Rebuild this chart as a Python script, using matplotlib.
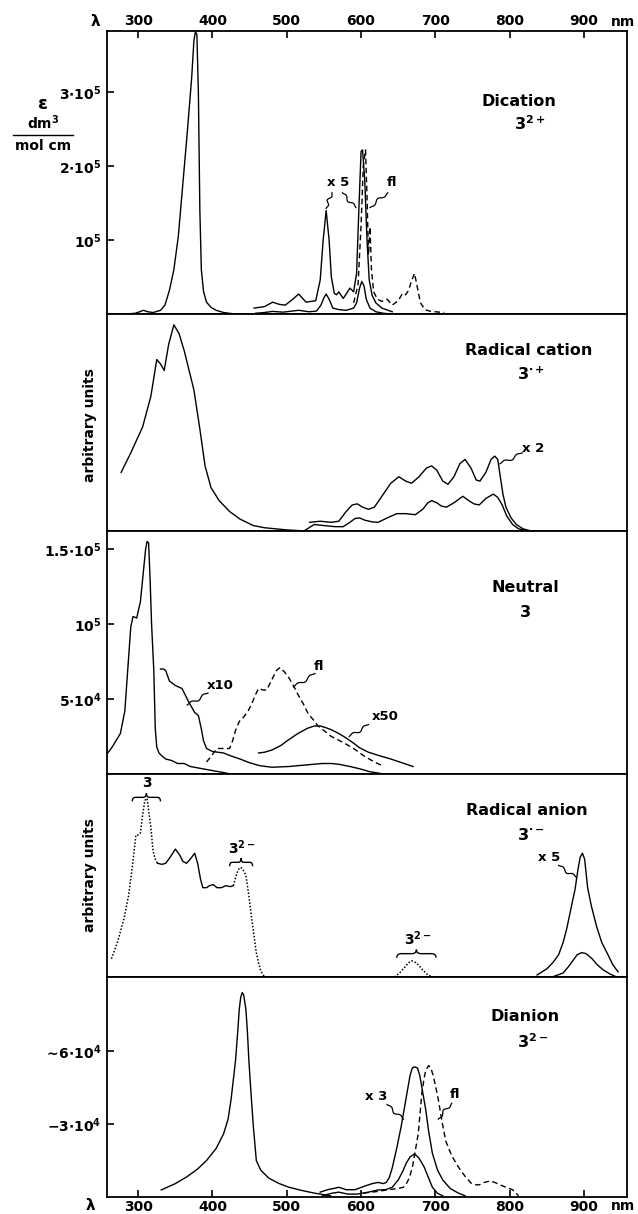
import numpy as np
import matplotlib
matplotlib.use("Agg")
import matplotlib.pyplot as plt
from matplotlib.path import Path
from matplotlib.patches import PathPatch
from matplotlib.lines import Line2D

plt.rcParams['font.family'] = ['DejaVu Sans']
plt.rcParams['font.weight'] = 'bold'
plt.rcParams['mathtext.fontset'] = 'dejavusans'
plt.rcParams['mathtext.default'] = 'bf'

# ---------------- data (wavelength in nm) ----------------
# Panel 1: Dication (epsilon in 1e5 dm3/mol cm)
dic_uv_wl = [284, 296, 302, 307, 313, 320, 330, 336, 342, 348, 354, 360, 366, 372, 375, 377,
             379, 381, 383, 385, 388, 392, 398, 405, 415, 430]
dic_uv = [0.0, 0.01, 0.03, 0.05, 0.03, 0.02, 0.05, 0.12, 0.32, 0.6, 1.05, 1.75, 2.45, 3.2, 3.7,
          3.82, 3.78, 3.0, 1.4, 0.6, 0.3, 0.16, 0.09, 0.05, 0.02, 0.0]
dic_x5_wl = [456, 470, 481, 490, 498, 508, 516, 526, 539, 545, 549, 553, 557, 560, 564, 567, 570,
             576, 585, 590, 594, 597, 600, 602, 605, 608, 611, 615, 620, 628, 642]
dic_x5 = [0.08, 0.1, 0.16, 0.13, 0.12, 0.2, 0.27, 0.16, 0.18, 0.46, 1.0, 1.4, 1.0, 0.5, 0.28, 0.26,
          0.3, 0.21, 0.35, 0.3, 0.55, 1.4, 2.2, 2.22, 1.8, 1.0, 0.46, 0.25, 0.15, 0.08, 0.03]
dic_x1_wl = [458, 470, 481, 495, 516, 530, 540, 546, 550, 553, 557, 562, 570, 580, 590, 594, 598,
             601, 604, 607, 612, 620, 630, 640]
dic_x1 = [0.01, 0.02, 0.035, 0.025, 0.05, 0.03, 0.04, 0.12, 0.22, 0.27, 0.2, 0.08, 0.06, 0.05,
          0.08, 0.15, 0.35, 0.44, 0.38, 0.2, 0.08, 0.03, 0.01, 0.0]
dic_fl_wl = [590, 596, 600, 603, 606, 608, 610, 612, 614, 617, 622, 628, 635, 642, 650, 656, 660,
             664, 668, 672, 676, 680, 686, 692, 700, 712]
dic_fl = [0.15, 0.4, 1.2, 2.0, 2.22, 1.6, 0.8, 1.18, 0.6, 0.3, 0.2, 0.17, 0.2, 0.12, 0.18, 0.28,
          0.26, 0.32, 0.45, 0.55, 0.35, 0.15, 0.06, 0.04, 0.03, 0.02]

# Panel 2: Radical cation (arbitrary units)
rc_uv_wl = [277, 290, 306, 317, 325, 330, 335, 341, 348, 355, 362, 375, 383, 390, 398, 409, 423,
            437, 455, 470, 500, 526]
rc_uv = [0.27, 0.36, 0.48, 0.62, 0.79, 0.77, 0.74, 0.86, 0.95, 0.91, 0.83, 0.65, 0.47, 0.3, 0.2,
         0.14, 0.09, 0.055, 0.025, 0.015, 0.005, 0.0]
rc_x2_wl = [531, 545, 560, 570, 580, 588, 595, 602, 610, 618, 628, 640, 651, 660, 668, 678, 688,
            695, 702, 710, 717, 725, 733, 740, 748, 755, 760, 768, 775, 780, 784, 787, 791, 795,
            802, 809, 818, 829]
rc_x2 = [0.04, 0.045, 0.04, 0.045, 0.09, 0.12, 0.125, 0.11, 0.1, 0.11, 0.16, 0.22, 0.25, 0.23,
         0.22, 0.25, 0.29, 0.30, 0.28, 0.23, 0.215, 0.25, 0.31, 0.33, 0.29, 0.235, 0.23, 0.27,
         0.33, 0.345, 0.33, 0.26, 0.17, 0.11, 0.06, 0.03, 0.01, 0.0]
rc_x1_wl = [523, 530, 537, 550, 565, 576, 585, 592, 598, 605, 615, 623, 635, 648, 660, 673, 683,
            690, 695, 702, 708, 715, 725, 737, 745, 752, 759, 768, 778, 784, 790, 796, 804, 812, 826]
rc_x1 = [0.0, 0.015, 0.03, 0.025, 0.02, 0.02, 0.04, 0.058, 0.06, 0.05, 0.042, 0.04, 0.06, 0.08,
         0.08, 0.075, 0.1, 0.13, 0.14, 0.13, 0.115, 0.11, 0.13, 0.16, 0.14, 0.125, 0.12, 0.15,
         0.17, 0.155, 0.12, 0.07, 0.03, 0.01, 0.0]

# Panel 3: Neutral (epsilon in 1e4)
neu_uv_wl = [256, 265, 276, 282, 286, 290, 293, 298, 303, 307, 310, 312, 314, 316, 318, 321, 323,
             325, 328, 332, 337, 345, 353, 362, 370, 381, 392, 403, 420]
neu_uv = [1.2, 1.8, 2.7, 4.2, 7.0, 9.8, 10.5, 10.4, 11.5, 13.5, 15.0, 15.5, 15.4, 13.0, 10.0, 6.9,
          3.0, 1.8, 1.4, 1.2, 1.0, 0.9, 0.7, 0.7, 0.5, 0.4, 0.3, 0.2, 0.05]
neu_x10_wl = [330, 334, 337, 342, 350, 359, 367, 376, 381, 385, 388, 392, 400, 415, 425, 437, 450,
              464, 480, 503, 525, 548, 560, 570, 585, 598, 612, 625]
neu_x10 = [7.0, 7.0, 6.9, 6.2, 5.9, 5.7, 4.9, 4.1, 3.9, 3.0, 2.2, 1.7, 1.5, 1.4, 1.2, 1.0, 0.75,
           0.55, 0.45, 0.5, 0.6, 0.7, 0.7, 0.65, 0.5, 0.35, 0.15, 0.05]
neu_x50_wl = [462, 470, 480, 492, 503, 515, 528, 537, 545, 552, 560, 570, 580, 590, 598, 610, 626,
              640, 655, 670]
neu_x50 = [1.4, 1.45, 1.6, 1.9, 2.3, 2.7, 3.05, 3.2, 3.2, 3.1, 2.95, 2.7, 2.4, 2.05, 1.75, 1.45,
           1.2, 1.0, 0.75, 0.5]
neu_fl_wl = [392, 400, 406, 414, 423, 427, 431, 436, 442, 448, 453, 458, 462, 468, 473, 480, 486,
             491, 497, 503, 509, 515, 522, 529, 536, 542, 550, 560, 576, 590, 604, 618, 631]
neu_fl = [0.8, 1.3, 1.7, 1.7, 1.7, 2.2, 2.9, 3.5, 3.8, 4.2, 4.7, 5.3, 5.7, 5.6, 5.6, 6.3, 6.9,
          7.1, 6.8, 6.4, 5.9, 5.3, 4.7, 4.0, 3.6, 3.2, 2.9, 2.5, 2.1, 1.7, 1.2, 0.8, 0.5]

# Panel 4: Radical anion (arbitrary units)
ra_dot1_wl = [264, 272, 281, 287, 292, 297, 300, 303, 306, 309, 312, 314, 317, 320, 323, 326]
ra_dot1 = [0.09, 0.17, 0.29, 0.4, 0.54, 0.70, 0.70, 0.71, 0.80, 0.87, 0.88, 0.82, 0.74, 0.62,
           0.58, 0.56]
ra_solid_wl = [326, 332, 337, 343, 350, 356, 360, 365, 370, 376, 380, 384, 387, 392, 396, 401,
               406, 412, 418, 424, 428]
ra_solid = [0.56, 0.555, 0.56, 0.59, 0.63, 0.6, 0.57, 0.56, 0.58, 0.61, 0.56, 0.48, 0.44, 0.44,
            0.45, 0.455, 0.44, 0.44, 0.45, 0.445, 0.45]
ra_dot2_wl = [428, 432, 435, 438, 441, 445, 449, 453, 456, 459, 462, 465, 470]
ra_dot2 = [0.45, 0.5, 0.53, 0.54, 0.53, 0.5, 0.4, 0.28, 0.2, 0.12, 0.07, 0.03, 0.0]
ra_dot3_wl = [645, 652, 658, 664, 668, 672, 677, 683, 690, 697]
ra_dot3 = [0.0, 0.02, 0.045, 0.07, 0.08, 0.075, 0.06, 0.035, 0.01, 0.0]
ra_x5_wl = [837, 850, 858, 866, 872, 877, 881, 885, 888, 892, 895, 898, 901, 905, 910, 917, 924,
            931, 939, 946]
ra_x5 = [0.01, 0.04, 0.07, 0.11, 0.17, 0.24, 0.31, 0.38, 0.43, 0.53, 0.59, 0.61, 0.58, 0.44,
         0.35, 0.25, 0.17, 0.12, 0.06, 0.025]
ra_x1_wl = [857, 865, 872, 879, 885, 891, 897, 903, 911, 918, 926, 935, 944]
ra_x1 = [0.0, 0.01, 0.02, 0.05, 0.08, 0.11, 0.12, 0.115, 0.09, 0.06, 0.035, 0.015, 0.0]

# Panel 5: Dianion (epsilon in 1e4)
di_uv_wl = [331, 350, 365, 380, 392, 405, 415, 421, 425, 428, 431, 434, 436, 438, 440, 442, 445,
            447, 449, 452, 455, 459, 465, 476, 490, 503, 520, 537, 559]
di_uv = [0.29, 0.55, 0.82, 1.15, 1.5, 2.0, 2.6, 3.2, 4.0, 4.8, 5.6, 6.8, 7.7, 8.2, 8.4, 8.3, 7.7,
         6.8, 5.6, 4.2, 2.9, 1.5, 1.1, 0.77, 0.55, 0.4, 0.27, 0.16, 0.05]
di_x3_wl = [545, 555, 563, 570, 580, 592, 605, 615, 623, 630, 634, 638, 642, 648, 654, 658, 662,
            666, 669, 672, 676, 679, 683, 687, 691, 696, 703, 710, 720, 731, 740]
di_x3 = [0.2, 0.3, 0.35, 0.4, 0.3, 0.3, 0.45, 0.55, 0.6, 0.55, 0.6, 0.8, 1.2, 2.0, 2.9, 3.6, 4.3,
         5.0, 5.3, 5.35, 5.3, 5.0, 4.3, 3.6, 2.7, 1.8, 1.1, 0.7, 0.35, 0.16, 0.05]
di_x1_wl = [548, 560, 570, 582, 595, 610, 623, 633, 642, 650, 656, 661, 666, 672, 678, 685, 690,
            696, 703, 710]
di_x1 = [0.05, 0.15, 0.2, 0.12, 0.12, 0.2, 0.29, 0.3, 0.4, 0.7, 1.05, 1.4, 1.65, 1.77, 1.6, 1.23,
         0.85, 0.4, 0.15, 0.05]
di_fl_wl = [603, 620, 637, 650, 657, 662, 665, 669, 673, 677, 679, 682, 685, 687, 691, 694, 697,
            700, 704, 709, 714, 722, 731, 740, 748, 755, 759, 766, 774, 780, 787, 795, 804, 812]
di_fl = [0.16, 0.22, 0.3, 0.35, 0.4, 0.6, 0.8, 1.2, 1.9, 2.6, 3.3, 4.3, 4.9, 5.2, 5.4, 5.3, 5.0,
         4.6, 4.0, 3.1, 2.3, 1.7, 1.23, 0.85, 0.57, 0.5, 0.5, 0.6, 0.66, 0.6, 0.5, 0.4, 0.3, 0.05]

# ticks
x_ticks = [300, 400, 500, 600, 700, 800, 900]
x_ticklabels = ['300', '400', '500', '600', '700', '800', '900']
p1_yticks = [1, 2, 3]
p1_ylabels = [r'$10^5$', r'$2{\cdot}10^5$', r'$3{\cdot}10^5$']
p3_yticks = [5, 10, 15]
p3_ylabels = [r'$5{\cdot}10^4$', r'$10^5$', r'$1.5{\cdot}10^5$']
p5_yticks = [3, 6]
p5_ylabels = [r'$-3{\cdot}10^4$', r'$\sim\!6{\cdot}10^4$']

titles = [('Dication', r'$3^{2+}$'), ('Radical cation', r'$3^{\cdot+}$'),
          ('Neutral', r'$3$'), ('Radical anion', r'$3^{\cdot-}$'), ('Dianion', r'$3^{2-}$')]

# ---------------- layout ----------------
W, H = 638, 1214
fig = plt.figure(figsize=(W / 100, H / 100), dpi=100)
X_LEFT, X_RIGHT = 107, 627
panel_px = [(31, 314), (314, 531), (531, 774), (774, 977), (977, 1197)]
ylims = [3.83, 1.0, 16.2, 1.0, 9.04]
XLIM = (258, 958)
LW = 1.0
K = 'black'


def fx(x):
    return x / W


def fy(y):
    return 1 - y / H


axes = []
for (t, b), yl in zip(panel_px, ylims):
    ax = fig.add_axes([fx(X_LEFT), fy(b), (X_RIGHT - X_LEFT) / W, (b - t) / H])
    ax.set_xlim(*XLIM)
    ax.set_ylim(0, yl)
    for s in ax.spines.values():
        s.set_linewidth(1.3)
    ax.tick_params(axis='both', direction='in', length=5, width=1.2, labelsize=10)
    ax.tick_params(axis='x', bottom=False, top=False, labelbottom=False, labeltop=False, pad=2)
    ax.set_yticks([])
    axes.append(ax)

ax1, ax2, ax3, ax4, ax5 = axes
ax1.set_xticks(x_ticks, x_ticklabels)
ax1.tick_params(axis='x', top=True, labeltop=True, pad=2)
ax5.set_xticks(x_ticks, x_ticklabels)
ax5.tick_params(axis='x', bottom=True, labelbottom=True, pad=2)
ax1.set_yticks(p1_yticks, p1_ylabels)
ax3.set_yticks(p3_yticks, p3_ylabels)
ax5.set_yticks(p5_yticks, p5_ylabels)
for ax in (ax1, ax3, ax5):
    ax.tick_params(axis='y', pad=4)

# ---------------- curves ----------------
DASH = (0, (4, 2.5))
DOT = (0, (1, 1.2))
ax1.plot(dic_uv_wl, dic_uv, color=K, lw=LW)
ax1.plot(dic_x5_wl, dic_x5, color=K, lw=LW)
ax1.plot(dic_x1_wl, dic_x1, color=K, lw=LW)
ax1.plot(dic_fl_wl, dic_fl, color=K, lw=LW, ls=DASH)

ax2.plot(rc_uv_wl, rc_uv, color=K, lw=LW)
ax2.plot(rc_x2_wl, rc_x2, color=K, lw=LW)
ax2.plot(rc_x1_wl, rc_x1, color=K, lw=LW)

ax3.plot(neu_uv_wl, neu_uv, color=K, lw=LW)
ax3.plot(neu_x10_wl, neu_x10, color=K, lw=LW)
ax3.plot(neu_x50_wl, neu_x50, color=K, lw=LW)
ax3.plot(neu_fl_wl, neu_fl, color=K, lw=LW, ls=DASH)

ax4.plot(ra_dot1_wl, ra_dot1, color=K, lw=1.1, ls=DOT)
ax4.plot(ra_solid_wl, ra_solid, color=K, lw=LW)
ax4.plot(ra_dot2_wl, ra_dot2, color=K, lw=1.1, ls=DOT)
ax4.plot(ra_dot3_wl, ra_dot3, color=K, lw=1.1, ls=DOT)
ax4.plot(ra_x5_wl, ra_x5, color=K, lw=LW)
ax4.plot(ra_x1_wl, ra_x1, color=K, lw=LW)

ax5.plot(di_uv_wl, di_uv, color=K, lw=LW)
ax5.plot(di_x3_wl, di_x3, color=K, lw=LW)
ax5.plot(di_x1_wl, di_x1, color=K, lw=LW)
ax5.plot(di_fl_wl, di_fl, color=K, lw=LW, ls=DASH)


# ---------------- annotations ----------------
def leader(ax, p0, p1, amp=2.0):
    """Wavy leader line between two data points (drawn in display space)."""
    T = ax.transData
    a = np.array(T.transform(p0))
    b = np.array(T.transform(p1))
    d = b - a
    n = np.array([-d[1], d[0]]) / np.hypot(*d)
    t = np.linspace(0, 1, 30)
    env = np.sin(np.pi * t)
    off = amp * env * np.sin(3 * np.pi * t)
    pts = a[None, :] + t[:, None] * d[None, :] + off[:, None] * n[None, :]
    pts = T.inverted().transform(pts)
    ax.plot(pts[:, 0], pts[:, 1], color=K, lw=0.9)


def brace(ax, x0, x1, y, h=4.0):
    T = ax.transData
    (a0, b0), (a1, _) = T.transform([(x0, y), (x1, y)])
    xm = (a0 + a1) / 2
    w = a1 - a0
    q = min(w * 0.12, 5)
    verts = [(a0, b0 - h), (a0, b0), (a0 + q, b0),
             (xm - q, b0), (xm, b0), (xm, b0 + h),
             (xm, b0), (xm + q, b0),
             (a1 - q, b0), (a1, b0), (a1, b0 - h)]
    codes = [Path.MOVETO, Path.CURVE3, Path.CURVE3,
             Path.LINETO, Path.CURVE3, Path.CURVE3,
             Path.CURVE3, Path.CURVE3,
             Path.LINETO, Path.CURVE3, Path.CURVE3]
    dv = T.inverted().transform(verts)
    ax.add_patch(PathPatch(Path(dv, codes), fill=False, lw=1.0, color=K))


TS = 11.5
AS = 9.5
title_pos = [((812, 2.88), (827, 2.58)), ((826, 0.83), (829, 0.72)),
             ((821, 12.4), (821, 10.8)), ((823, 0.82), (829, 0.70)),
             ((821, 7.4), (831, 6.4))]
for ax, (t1, t2), (p1, p2) in zip(axes, titles, title_pos):
    ax.text(*p1, t1, fontsize=TS, ha='center', va='center')
    ax.text(*p2, t2, fontsize=TS, ha='center', va='center')

# panel 1
ax1.text(569, 1.78, 'x 5', fontsize=AS, ha='center', va='center')
ax1.text(642, 1.78, 'fl', fontsize=AS, ha='center', va='center')
leader(ax1, (561, 1.64), (553, 1.43))
leader(ax1, (575, 1.64), (593, 1.44))
leader(ax1, (636, 1.64), (612, 1.44))
# panel 2
ax2.text(831, 0.38, 'x 2', fontsize=AS, ha='center', va='center')
leader(ax2, (787, 0.31), (817, 0.36))
# panel 3
ax3.text(410, 5.9, 'x10', fontsize=AS, ha='center', va='center')
leader(ax3, (366, 4.6), (394, 5.4))
ax3.text(543, 7.2, 'fl', fontsize=AS, ha='center', va='center')
leader(ax3, (509, 5.8), (538, 6.7))
ax3.text(633, 3.8, 'x50', fontsize=AS, ha='center', va='center')
leader(ax3, (584, 2.5), (610, 3.3))
# panel 4
brace(ax4, 292, 330, 0.885)
ax4.text(312, 0.955, '3', fontsize=AS + 0.5, ha='center', va='center')
brace(ax4, 423, 454, 0.565)
ax4.text(440, 0.635, r'$3^{2-}$', fontsize=AS + 0.5, ha='center', va='center')
brace(ax4, 648, 701, 0.115)
ax4.text(676, 0.19, r'$3^{2-}$', fontsize=AS + 0.5, ha='center', va='center')
ax4.text(853, 0.59, 'x 5', fontsize=AS, ha='center', va='center')
leader(ax4, (866, 0.55), (890, 0.49))
# panel 5
ax5.text(620, 4.15, 'x 3', fontsize=AS, ha='center', va='center')
leader(ax5, (635, 3.8), (657, 3.2))
ax5.text(727, 4.2, 'fl', fontsize=AS, ha='center', va='center')
leader(ax5, (722, 3.85), (704, 3.2))

# axis labels
fig.text(fx(95), fy(22), 'λ', fontsize=11, ha='center', va='center')
fig.text(fx(623), fy(22), 'nm', fontsize=10, ha='center', va='center')
fig.text(fx(90), fy(1206), 'λ', fontsize=11, ha='center', va='center')
fig.text(fx(623), fy(1206), 'nm', fontsize=10, ha='center', va='center')

fig.text(fx(43), fy(104), 'ε', fontsize=13, ha='center', va='center')
fig.text(fx(43), fy(123), r'dm$^3$', fontsize=10, ha='center', va='center')
fig.add_artist(Line2D([fx(13), fx(73)], [fy(135), fy(135)], color=K, lw=1.0))
fig.text(fx(43), fy(146), 'mol cm', fontsize=10, ha='center', va='center')

fig.text(fx(90), fy(425), 'arbitrary units', fontsize=10, rotation=90, ha='center', va='center')
fig.text(fx(90), fy(875), 'arbitrary units', fontsize=10, rotation=90, ha='center', va='center')

fig.savefig('out.png', dpi=100)
